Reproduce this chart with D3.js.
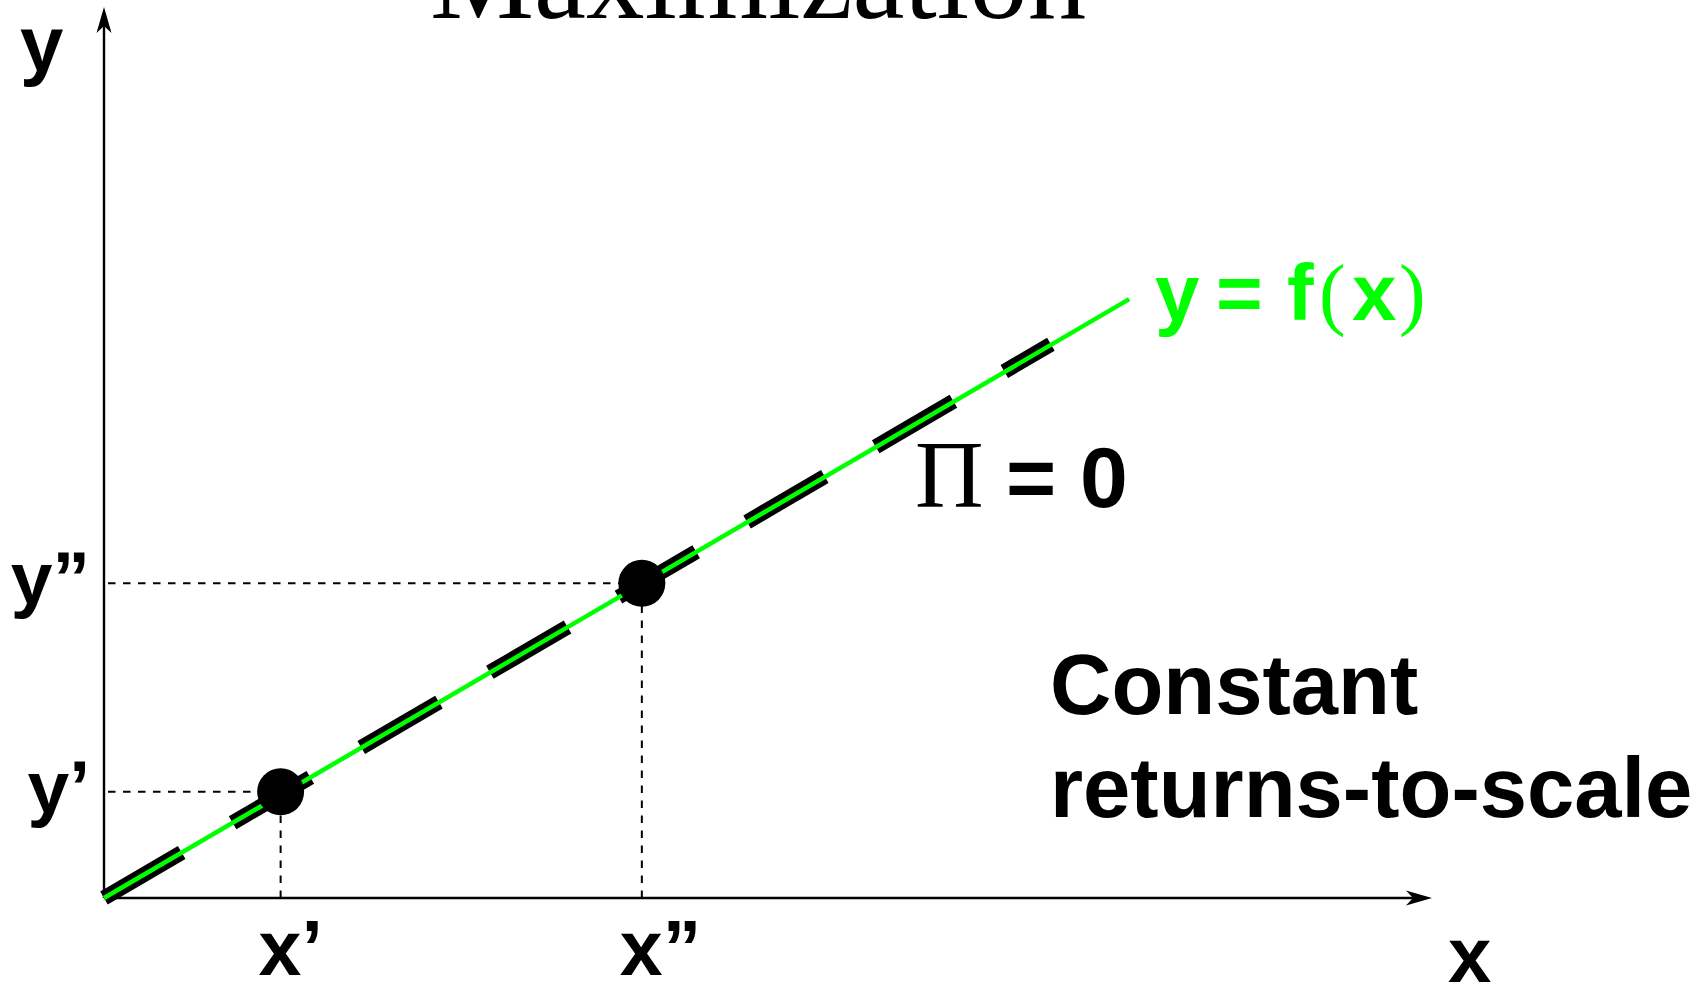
<!DOCTYPE html>
<html>
<head>
<meta charset="utf-8">
<script src="https://cdn.jsdelivr.net/npm/d3@7"></script>
<style>
  body { margin: 0; background: #fff; }
  .lab { font-family: "Liberation Sans", Arial, sans-serif; font-weight: bold; }
  .serif { font-family: "Liberation Serif", "Times New Roman", serif; }
</style>
</head>
<body>
<div id="chart"></div>
<script>
// axis extent in data units
var axisMax = [10, 6.71];
// production function y = f(x)
var fLine = [[0, 0], [7.72, 4.51]];
// zero profit line (thick black dashes)
var profitLine = [[0, 0], [7.13, 4.17]];
// the two marked bundles
var bundleX = [1.33, 4.05];
var bundleY = [0.80, 2.37];
var xTickLabels = ["x\u2019", "x\u201D"];
var yTickLabels = ["y\u2019", "y\u201D"];

var width = 1703, height = 991;

var xScale = d3.scaleLinear().domain([0, axisMax[0]]).range([104, 1432]);
var yScale = d3.scaleLinear().domain([0, axisMax[1]]).range([898, 7]);

var svg = d3.select("#chart").append("svg")
    .attr("width", width)
    .attr("height", height);

var line = d3.line()
    .x(function(d) { return xScale(d[0]); })
    .y(function(d) { return yScale(d[1]); });

// title, cut off at the top like the original
svg.append("text")
    .attr("class", "serif")
    .attr("x", 430)
    .attr("y", 18)
    .style("font-size", "117px")
    .text("Maximization");

// axes
svg.append("line")
    .attr("x1", xScale(0)).attr("y1", yScale(0))
    .attr("x2", xScale(axisMax[0]) - 12).attr("y2", yScale(0))
    .attr("stroke", "black").attr("stroke-width", 2.4);
svg.append("line")
    .attr("x1", xScale(0)).attr("y1", yScale(0))
    .attr("x2", xScale(0)).attr("y2", yScale(axisMax[1]) + 12)
    .attr("stroke", "black").attr("stroke-width", 2.4);

function arrowHead(tx, ty, angle) {
    // arrow pointing along +x, then rotated
    svg.append("path")
        .attr("d", "M0,0 L-26,-7.5 L-19,0 L-26,7.5 Z")
        .attr("transform", "translate(" + tx + "," + ty + ") rotate(" + angle + ")")
        .attr("fill", "black");
}
arrowHead(xScale(axisMax[0]), yScale(0), 0);
arrowHead(xScale(0), yScale(axisMax[1]), -90);

// dashed guides to the axes
bundleX.forEach(function(bx, i) {
    var by = bundleY[i];
    svg.append("line")
        .attr("x1", xScale(0) + 4).attr("y1", yScale(by))
        .attr("x2", xScale(bx)).attr("y2", yScale(by))
        .attr("stroke", "black").attr("stroke-width", 2)
        .attr("stroke-dasharray", "7.5,7.5");
    svg.append("line")
        .attr("x1", xScale(bx)).attr("y1", yScale(0))
        .attr("x2", xScale(bx)).attr("y2", yScale(by))
        .attr("stroke", "black").attr("stroke-width", 2)
        .attr("stroke-dasharray", "7.5,7.5");
});

// zero profit line
svg.append("path")
    .datum(profitLine)
    .attr("d", line)
    .attr("fill", "none")
    .attr("stroke", "black")
    .attr("stroke-width", 15)
    .attr("stroke-dasharray", "90,59");

// production function
svg.append("path")
    .datum(fLine)
    .attr("d", line)
    .attr("fill", "none")
    .attr("stroke", "#00ff00")
    .attr("stroke-width", 4.5);

// bundles
svg.selectAll("circle.bundle")
    .data(bundleX)
    .enter().append("circle")
    .attr("class", "bundle")
    .attr("cx", function(d) { return xScale(d); })
    .attr("cy", function(d, i) { return yScale(bundleY[i]); })
    .attr("r", 23.5)
    .attr("fill", "black");

// tick style labels
svg.selectAll("text.xlab")
    .data(xTickLabels)
    .enter().append("text")
    .attr("class", "lab xlab")
    .attr("x", function(d, i) { return xScale(bundleX[i]) - 22; })
    .attr("y", 975)
    .style("font-size", "77px")
    .text(function(d) { return d; });

svg.selectAll("text.ylab")
    .data(yTickLabels)
    .enter().append("text")
    .attr("class", "lab ylab")
    .attr("text-anchor", "end")
    .attr("x", 90)
    .attr("y", function(d, i) { return yScale(bundleY[i]) + 21; })
    .style("font-size", "75px")
    .text(function(d) { return d; });

// axis names
svg.append("text").attr("class", "lab")
    .attr("x", 20).attr("y", 71)
    .style("font-size", "78px")
    .text("y");
svg.append("text").attr("class", "lab")
    .attr("x", 1448).attr("y", 982)
    .style("font-size", "78px")
    .text("x");

// y = f(x) label
var fl = svg.append("text")
    .attr("y", 320)
    .attr("fill", "#00ff00")
    .style("font-size", "80px");
fl.append("tspan").attr("class", "lab").attr("x", 1155).text("y");
fl.append("tspan").attr("class", "lab").attr("x", 1216).text("=");
fl.append("tspan").attr("class", "lab").attr("x", 1287).text("f");
fl.append("tspan").attr("class", "serif").attr("x", 1319).text("(");
fl.append("tspan").attr("class", "lab").attr("x", 1352).text("x");
fl.append("tspan").attr("class", "serif").attr("x", 1399).text(")");

// Pi = 0 label
var pl = svg.append("text").attr("y", 507);
pl.append("tspan").attr("class", "serif").attr("x", 915)
    .style("font-size", "95px").text("\u03A0");
pl.append("tspan").attr("class", "lab").attr("x", 1006)
    .style("font-size", "86px").text("=");
pl.append("tspan").attr("class", "lab").attr("x", 1080)
    .style("font-size", "86px").text("0");

// technology note
var note = svg.append("text")
    .attr("class", "lab")
    .style("font-size", "85px");
note.append("tspan").attr("x", 1050).attr("y", 714).text("Constant");
note.append("tspan").attr("x", 1050).attr("y", 817).text("returns-to-scale");
</script>
</body>
</html>
